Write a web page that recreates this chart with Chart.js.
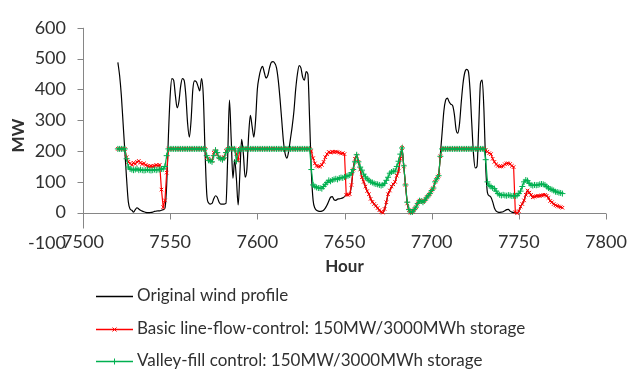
<!DOCTYPE html>
<html><head><meta charset="utf-8">
<script src="https://cdn.jsdelivr.net/npm/chart.js@4/dist/chart.umd.min.js"></script>
<style>html,body{margin:0;padding:0;background:#fff;}canvas{display:block;}</style>
</head><body>
<canvas id="c" width="628" height="376"></canvas>
<script>
// ---- data (hourly, starting at startHour) ----
const startHour = 7520;
const seriesNames = ['Original wind profile',
  'Basic line-flow-control: 150MW/3000MWh storage',
  'Valley-fill control: 150MW/3000MWh storage'];
const xTicks = [7500, 7550, 7600, 7650, 7700, 7750, 7800];
const yTicks = [-100, 0, 100, 200, 300, 400, 500, 600];

const windProfile = [
  488,445,380,290,200,110,35,12,8,2,
  10,16,12,8,5,3,1,0,0,1,
  2,4,5,6,6,8,10,15,90,250,
  380,435,430,380,340,360,410,435,430,380,
  290,245,300,400,428,425,410,395,435,380,
  200,60,32,28,30,45,55,50,35,28,
  28,28,30,180,365,240,112,172,110,25,
  130,238,190,115,140,250,316,280,245,300,
  400,440,465,475,455,437,445,470,488,490,
  485,470,430,370,300,230,190,177,200,240,
  280,330,400,450,477,470,440,430,458,450,
  300,130,40,15,8,5,4,5,8,15,
  25,38,50,52,42,40,44,45,46,48,
  52,58,58,60,90,140,175,185,165,140,
  115,100,85,70,60,45,35,28,22,15,
  8,3,0,12,34,60,72,85,92,100,
  120,135,175,210,150,90,30,8,0,3,
  10,18,30,39,38,34,40,48,55,62,
  72,80,100,110,120,190,260,330,365,372,
  360,352,348,320,270,258,290,360,420,455,
  465,460,400,290,190,145,150,280,420,430,
  330,150,65,55,50,35,15,5,2,1,
  2,3,6,10,11,5,2,1,0,-2,
  5,20,28,40,58,72,65,58,50,52,
  54,55,54,56,58,58,55,48,38,34,
  28,24,22,20,18,16
];
const basicLineFlow = [
  207,207,207,207,207,180,165,160,155,162,
  158,165,168,162,158,160,155,152,150,152,
  150,152,155,153,155,75,18,40,130,207,
  207,207,207,207,207,207,207,207,207,207,
  207,207,207,207,207,207,207,207,207,207,
  207,180,175,170,168,195,200,190,180,177,
  175,180,200,207,207,207,207,207,190,170,
  207,207,207,207,207,207,207,207,207,207,
  207,207,207,207,207,207,207,207,207,207,
  207,207,207,207,207,207,207,207,207,207,
  207,207,207,207,207,207,207,207,207,207,
  207,200,177,160,152,150,150,155,165,180,
  190,197,195,198,196,198,197,195,192,193,
  190,58,58,60,90,140,175,185,165,140,
  115,100,85,70,60,45,35,28,22,15,
  8,3,0,12,34,60,72,85,92,100,
  120,135,175,210,150,90,30,8,0,3,
  10,18,30,39,38,34,40,48,55,62,
  72,80,100,110,120,183,207,207,207,207,
  207,207,207,207,207,207,207,207,207,207,
  207,207,207,207,207,207,207,207,207,207,
  207,203,198,193,190,175,165,157,152,150,
  150,152,157,160,160,158,152,148,2,-2,
  5,20,28,40,58,72,65,58,50,52,
  54,55,54,56,58,58,55,48,38,34,
  28,24,22,20,18,16
];
const valleyFill = [
  207,207,207,207,207,175,148,142,140,138,
  140,142,138,140,138,137,138,140,138,137,
  138,140,138,140,140,142,142,150,185,207,
  207,207,207,207,207,207,207,207,207,207,
  207,207,207,207,207,207,207,207,207,207,
  207,185,170,168,165,185,203,195,178,175,
  172,178,195,207,207,207,207,207,167,200,
  207,207,207,207,207,207,207,207,207,207,
  207,207,207,207,207,207,207,207,207,207,
  207,207,207,207,207,207,207,207,207,207,
  207,207,207,207,207,207,207,207,207,207,
  207,140,90,85,82,80,80,78,85,92,
  98,105,102,106,108,110,108,112,114,113,
  116,118,120,122,130,140,165,188,165,148,
  138,125,116,110,105,100,98,95,93,92,
  90,88,90,95,105,115,128,132,135,135,
  150,167,190,210,152,90,34,10,2,3,
  10,18,30,39,38,34,40,48,55,62,
  72,80,100,110,120,183,207,207,207,207,
  207,207,207,207,207,207,207,207,207,207,
  207,207,207,207,207,207,207,207,207,207,
  207,172,100,88,85,80,78,70,62,58,
  56,58,56,55,57,56,54,55,54,56,
  62,70,85,100,106,104,95,90,88,90,
  89,90,92,93,92,90,85,80,77,75,
  72,68,67,65,64,62
];

function toPoints(arr) { return arr.map((v, i) => ({ x: startHour + i, y: v })); }

const FONT = 'Lato, "Open Sans", sans-serif';
const TEXT = '#303030';
const AXIS = '#868686';

const axisLines = {
  id: 'axisLines',
  beforeDatasetsDraw(chart) {
    const { ctx, scales: { x, y } } = chart;
    const x0 = Math.round(x.getPixelForValue(xTicks[0])) + 0.5;
    const y0 = Math.round(y.getPixelForValue(0)) + 0.5;
    ctx.save();
    ctx.strokeStyle = AXIS; ctx.lineWidth = 1;
    ctx.beginPath();
    ctx.moveTo(x0, y.getPixelForValue(yTicks[yTicks.length - 1]));
    ctx.lineTo(x0, y0 + 15);
    yTicks.filter(v => v >= 0).forEach(v => {
      const py = Math.round(y.getPixelForValue(v)) + 0.5;
      ctx.moveTo(x0 - 6, py); ctx.lineTo(x0, py);
    });
    ctx.moveTo(x0, y0); ctx.lineTo(x.getPixelForValue(xTicks[xTicks.length - 1]), y0);
    xTicks.forEach(v => {
      const px = Math.round(x.getPixelForValue(v)) + 0.5;
      ctx.moveTo(px, y0); ctx.lineTo(px, y0 + 6);
    });
    ctx.stroke();
    ctx.restore();
  },
  afterDraw(chart) {
    // x tick labels, placed low (Excel style) at the -100 level
    const { ctx, scales: { x, y } } = chart;
    ctx.save();
    ctx.fillStyle = TEXT;
    ctx.font = '18px ' + FONT;
    ctx.textAlign = 'center'; ctx.textBaseline = 'middle';
    const ly = y.getPixelForValue(yTicks[0]) - 1;
    xTicks.forEach(v => ctx.fillText(String(v), x.getPixelForValue(v), ly));
    ctx.restore();
  }
};

const bottomLegend = {
  id: 'bottomLegend',
  afterDraw(chart) {
    const { ctx } = chart;
    const rows = [296, 329, 361];
    const x1 = 96, x2 = 133, tx = 137;
    ctx.save();
    chart.data.datasets.forEach((ds, i) => {
      const yy = rows[i] + 0.5;
      ctx.strokeStyle = ds.borderColor; ctx.lineWidth = 1.3;
      ctx.beginPath(); ctx.moveTo(x1, yy); ctx.lineTo(x2, yy); ctx.stroke();
      const mx = (x1 + x2) / 2;
      if (ds.pointStyle === 'crossRot') {
        ctx.lineWidth = 1;
        ctx.beginPath();
        ctx.moveTo(mx - 2, yy - 2); ctx.lineTo(mx + 2, yy + 2);
        ctx.moveTo(mx - 2, yy + 2); ctx.lineTo(mx + 2, yy - 2);
        ctx.stroke();
      } else if (ds.pointStyle === 'cross') {
        ctx.lineWidth = 1;
        ctx.beginPath();
        ctx.moveTo(mx, yy - 3); ctx.lineTo(mx, yy + 3);
        ctx.stroke();
      }
      ctx.fillStyle = TEXT;
      ctx.font = '17px ' + FONT;
      ctx.textAlign = 'left'; ctx.textBaseline = 'middle';
      ctx.fillText(ds.label, tx, rows[i]);
    });
    ctx.restore();
  }
};

new Chart(document.getElementById('c'), {
  type: 'line',
  data: {
    datasets: [
      { label: seriesNames[0], data: toPoints(windProfile), borderColor: '#000000',
        borderWidth: 1.2, pointRadius: 0, pointStyle: false, cubicInterpolationMode: 'monotone', order: 3 },
      { label: seriesNames[1], data: toPoints(basicLineFlow), borderColor: '#ff0000',
        backgroundColor: '#ff0000', borderWidth: 1.2, pointStyle: 'crossRot', pointRadius: 2.5,
        pointBorderWidth: 1, pointBorderColor: '#ff0000', tension: 0, order: 2 },
      { label: seriesNames[2], data: toPoints(valleyFill), borderColor: '#00b050',
        backgroundColor: '#00b050', borderWidth: 1.2, pointStyle: 'cross', pointRadius: 3,
        pointBorderWidth: 1, pointBorderColor: '#00b050', tension: 0, order: 1 }
    ]
  },
  options: {
    responsive: false,
    animation: false,
    devicePixelRatio: 1,
    layout: { padding: { top: 16, right: 22, left: 0, bottom: 99.5 } },
    plugins: { legend: { display: false }, tooltip: { enabled: false } },
    scales: {
      x: {
        type: 'linear', min: xTicks[0], max: xTicks[xTicks.length - 1],
        grid: { display: false, drawTicks: false }, border: { display: false },
        ticks: { display: false, stepSize: 50 },
        title: { display: true, text: 'Hour', color: TEXT, padding: { top: 0, bottom: 0 },
          font: { family: FONT, size: 17, weight: 'bold' } },
        afterFit(s) { s.height = 33; }
      },
      y: {
        min: yTicks[0], max: yTicks[yTicks.length - 1],
        grid: { display: false, drawTicks: false }, border: { display: false },
        ticks: { stepSize: 100, autoSkip: false, padding: 17, color: TEXT,
          font: { family: FONT, size: 18 }, callback: v => String(v) },
        title: { display: true, text: 'MW', color: TEXT, padding: { top: 8, bottom: 0 },
          font: { family: FONT, size: 17, weight: 'bold' } },
        afterFit(s) { s.width = 83; }
      }
    }
  },
  plugins: [axisLines, bottomLegend]
});
</script>
</body></html>
